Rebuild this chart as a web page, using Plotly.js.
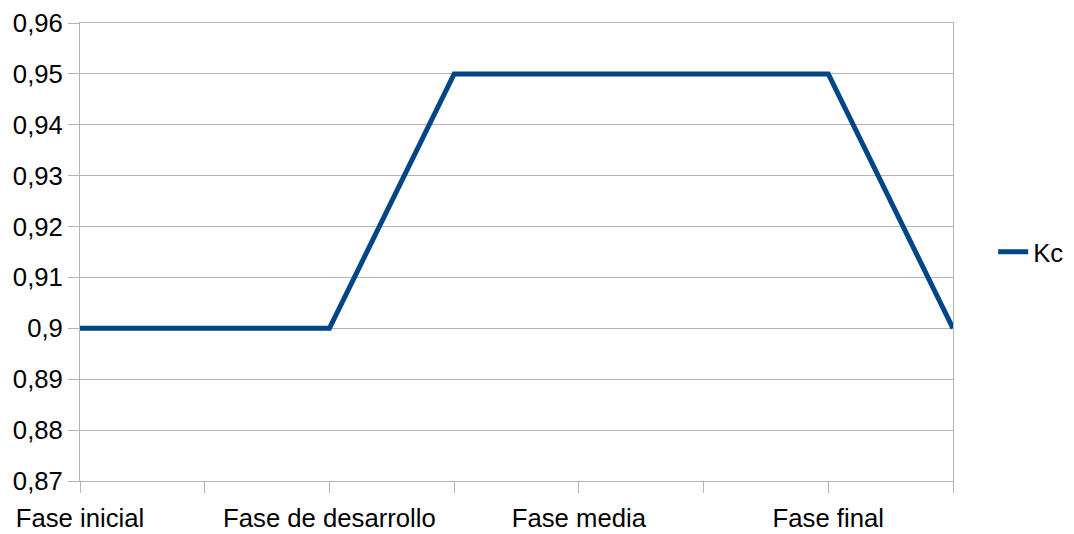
<!DOCTYPE html>
<html>
<head>
<meta charset="utf-8">
<script src="https://cdn.plot.ly/plotly-3.0.1.min.js"></script>
<style>
  html, body { margin: 0; padding: 0; background: #ffffff; }
  #chart { width: 1074px; height: 534px; }
</style>
</head>
<body>
<div id="chart"></div>
<script>
// Kc per crop stage (category positions along the x axis)
const positions = [0, 1, 2, 3, 4, 5, 6, 7];
const categoryLabels = ["Fase inicial", "", "Fase de desarrollo", "", "Fase media", "", "Fase final", ""];
const kcValues = [0.9, 0.9, 0.9, 0.95, 0.95, 0.95, 0.95, 0.9];
const yTicks = [0.87, 0.88, 0.89, 0.9, 0.91, 0.92, 0.93, 0.94, 0.95, 0.96];

const gridColor = "#b3b3b3";
const fontFamily = "'Liberation Sans', Arial, sans-serif";
const fontSize = 25.7;

const trace = {
  x: positions,
  y: kcValues,
  type: "scatter",
  mode: "lines",
  name: "Kc",
  line: { color: "#004586", width: 5 }
};

const layout = {
  width: 1074,
  height: 534,
  margin: { l: 80, r: 121, t: 23, b: 53, autoexpand: false },
  paper_bgcolor: "#ffffff",
  plot_bgcolor: "#ffffff",
  separators: ",.",
  font: { family: fontFamily, size: fontSize, color: "#000000" },
  showlegend: true,
  legend: {
    x: 1.046, xanchor: "left",
    y: 0.5, yanchor: "middle",
    font: { family: fontFamily, size: fontSize, color: "#000000" },
    bgcolor: "rgba(0,0,0,0)",
    borderwidth: 0,
    itemwidth: 30
  },
  xaxis: {
    range: [0, 7],
    tickmode: "array",
    tickvals: positions,
    ticktext: categoryLabels,
    ticks: "outside",
    ticklen: 11,
    tickcolor: gridColor,
    tickwidth: 1,
    ticklabelstandoff: 3,
    showgrid: false,
    zeroline: false,
    showline: true,
    linecolor: gridColor,
    linewidth: 1,
    mirror: true,
    tickfont: { family: fontFamily, size: fontSize, color: "#000000" }
  },
  yaxis: {
    range: [0.87, 0.96],
    tickmode: "array",
    tickvals: yTicks,
    ticktext: yTicks.map(v => String(v).replace(".", ",")),
    ticks: "outside",
    ticklen: 11,
    tickcolor: gridColor,
    tickwidth: 1,
    showgrid: true,
    gridcolor: gridColor,
    gridwidth: 1,
    zeroline: false,
    showline: true,
    linecolor: gridColor,
    linewidth: 1,
    mirror: true,
    tickfont: { family: fontFamily, size: fontSize, color: "#000000" }
  }
};

Plotly.newPlot("chart", [trace], layout, { staticPlot: true, displayModeBar: false });
</script>
</body>
</html>
